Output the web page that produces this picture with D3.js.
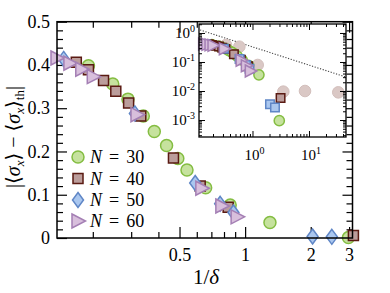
<!DOCTYPE html>
<html>
<head>
<meta charset="utf-8">
<script src="https://cdn.jsdelivr.net/npm/d3@7"></script>
<style>
  body { margin: 0; background: #fff; }
  svg { display: block; }
  text { font-family: "Liberation Serif", "DejaVu Serif", serif; fill: #000; }
</style>
</head>
<body>
<div id="chart"></div>
<script>
// data (x = 1/delta, y = |<sx> - <sx>_th|)
const n30_x = [0.191, 0.247, 0.290, 0.341, 0.383, 0.436, 0.491, 0.541, 0.659, 0.854, 1.30, 2.98];
const n30_y = [0.398, 0.356, 0.321, 0.282, 0.246, 0.214, 0.184, 0.157, 0.116, 0.076, 0.036, 0.00095];
const n40_x = [0.168, 0.191, 0.224, 0.255, 0.292, 0.332, 0.469, 0.622, 0.836, 3.14];
const n40_y = [0.406, 0.389, 0.364, 0.339, 0.312, 0.282, 0.185, 0.120, 0.071, 0.0058];
const n50_x = [0.147, 0.312, 0.590, 0.768, 0.884, 2.04, 2.50];
const n50_y = [0.414, 0.288, 0.127, 0.079, 0.059, 0.0035, 0.0027];
const n60_x = [0.137, 0.157, 0.178, 0.201, 0.319, 0.633, 0.782, 0.919];
const n60_y = [0.416, 0.404, 0.390, 0.373, 0.285, 0.115, 0.074, 0.049];
// grey reference points, inset only
const grey_x = [0.34, 0.585, 1.236, 3.51, 8.5, 33];
const grey_y = [0.386, 0.337, 0.0788, 0.0095, 0.0100, 0.0090];
// dotted guide line in the inset
const guide_x = [0.118, 43.4];
const guide_y = [1.27, 0.0311];

const series = [
  {label: "30", xs: n30_x, ys: n30_y, shape: "circle",   fill: "#c6e29e", stroke: "#84bd42"},
  {label: "40", xs: n40_x, ys: n40_y, shape: "square",   fill: "#bb9d9b", stroke: "#5a1a12"},
  {label: "50", xs: n50_x, ys: n50_y, shape: "diamond",  fill: "#aac7ef", stroke: "#5f86c6"},
  {label: "60", xs: n60_x, ys: n60_y, shape: "triangle", fill: "#d8bfdc", stroke: "#a47fb4"}
];

const FONT = '"Liberation Serif", "DejaVu Serif", serif';
const width = 390, height = 293;
const svg = d3.select("#chart").append("svg").attr("width", width).attr("height", height)
  .style("font-family", FONT);

function markerPath(shape, k) {
  if (shape === "square") return `M${-5*k},${-5*k}H${5*k}V${5*k}H${-5*k}Z`;
  if (shape === "diamond") return `M0,${-7.5*k}L${5.5*k},0L0,${7.5*k}L${-5.5*k},0Z`;
  if (shape === "triangle") return `M${-6*k},${-7*k}L${7.5*k},0L${-6*k},${7*k}Z`;
  return null;
}
function drawMarker(g, shape, cx, cy, fill, stroke, k) {
  if (shape === "circle") {
    g.append("circle").attr("cx", cx).attr("cy", cy).attr("r", 6 * k)
      .attr("fill", fill).attr("stroke", stroke).attr("stroke-width", 1.5);
  } else {
    g.append("path").attr("d", markerPath(shape, k))
      .attr("transform", `translate(${cx},${cy})`)
      .attr("fill", fill).attr("stroke", stroke).attr("stroke-width", 1.5);
  }
}
function logTicks(lo, hi, withMajor) {
  const out = [];
  for (let d = -5; d <= 2; d++) for (let m = 1; m <= 9; m++) {
    const v = m * Math.pow(10, d);
    if (v >= lo && v <= hi && ((m === 1) === withMajor)) out.push(v);
  }
  return out;
}

// ---- main plot
const L = 57, R = 352.5, T = 21.7, B = 238;
const x = d3.scaleLog().domain([0.137, 3.11]).range([L, R]);
const y = d3.scaleLinear().domain([0, 0.5]).range([B, T]);

const xMajor = [0.5, 1, 2, 3];
const xMinor = [0.2, 0.3, 0.4, 0.6, 0.7, 0.8, 0.9];
const yMajor = d3.range(0, 0.51, 0.1);
const yMinor = d3.range(0, 0.5, 0.02).filter((v, i) => i % 5 !== 0);

function axisStyle(g) {
  g.attr("font-family", FONT);
  g.select(".domain").remove();
  g.selectAll("line").attr("stroke", "#000").attr("stroke-width", 1.2);
  g.selectAll("text").style("font-size", "18px").style("font-family", FONT).attr("fill", "#000");
}
svg.append("g").attr("transform", `translate(0,${B})`)
  .call(d3.axisBottom(x).tickValues(xMajor).tickSize(-11).tickPadding(10)
    .tickFormat(d => String(d))).call(axisStyle);
svg.append("g").attr("transform", `translate(0,${B})`)
  .call(d3.axisBottom(x).tickValues(xMinor).tickSize(-6).tickFormat("")).call(axisStyle);
svg.append("g").attr("transform", `translate(0,${T})`)
  .call(d3.axisTop(x).tickValues(xMajor).tickSize(-11).tickFormat("")).call(axisStyle);
svg.append("g").attr("transform", `translate(0,${T})`)
  .call(d3.axisTop(x).tickValues(xMinor).tickSize(-6).tickFormat("")).call(axisStyle);
svg.append("g").attr("transform", `translate(${L},0)`)
  .call(d3.axisLeft(y).tickValues(yMajor).tickSize(-10).tickPadding(7)
    .tickFormat(d => d === 0 ? "0" : d3.format(".1f")(d))).call(axisStyle);
svg.append("g").attr("transform", `translate(${L},0)`)
  .call(d3.axisLeft(y).tickValues(yMinor).tickSize(-6).tickFormat("")).call(axisStyle);
svg.append("g").attr("transform", `translate(${R},0)`)
  .call(d3.axisRight(y).tickValues(yMajor).tickSize(-10).tickFormat("")).call(axisStyle);
svg.append("g").attr("transform", `translate(${R},0)`)
  .call(d3.axisRight(y).tickValues(yMinor).tickSize(-6).tickFormat("")).call(axisStyle);

// ---- inset (drawn over the main frame area)
const iL = 199, iR = 346, iT = 24, iB = 137;
const ix = d3.scaleLog().domain([0.113, 45.2]).range([iL, iR]);
const iy = d3.scaleLog().domain([2.6e-4, 2.04]).range([iB, iT]);

// main markers first
const gMain = svg.append("g");
series.forEach(s => {
  s.xs.forEach((v, i) => drawMarker(gMain, s.shape, x(v), y(s.ys[i]), s.fill, s.stroke, 1));
});

svg.append("rect").attr("x", iL).attr("y", iT).attr("width", iR - iL).attr("height", iB - iT)
  .attr("fill", "#fff");

const gIn = svg.append("g");
gIn.append("path")
  .attr("d", d3.line()(guide_x.map((v, i) => [ix(v), iy(guide_y[i])])))
  .attr("fill", "none").attr("stroke", "#444").attr("stroke-width", 1.1)
  .attr("stroke-dasharray", "1.2,1.6");
grey_x.forEach((v, i) => {
  gIn.append("circle").attr("cx", ix(v)).attr("cy", iy(grey_y[i])).attr("r", 5.8)
    .attr("fill", "#dac8c5").attr("stroke", "#d3bfbc").attr("stroke-width", 1);
});
series.forEach(s => {
  const shape = s.shape === "diamond" ? "square" : s.shape;
  s.xs.forEach((v, i) => drawMarker(gIn, shape, ix(v), iy(s.ys[i]), s.fill, s.stroke, 0.85));
});

function insetStyle(g) {
  g.select(".domain").remove();
  g.selectAll("line").attr("stroke", "#000").attr("stroke-width", 1);
}
const ixMaj = logTicks(0.113, 45.2, true), ixMin = logTicks(0.113, 45.2, false);
const iyMaj = logTicks(2.6e-4, 2.04, true), iyMin = logTicks(2.6e-4, 2.04, false);
[[iB, d3.axisBottom], [iT, d3.axisTop]].forEach(([pos, ax]) => {
  svg.append("g").attr("transform", `translate(0,${pos})`)
    .call(ax(ix).tickValues(ixMaj).tickSize(-6).tickFormat("")).call(insetStyle);
  svg.append("g").attr("transform", `translate(0,${pos})`)
    .call(ax(ix).tickValues(ixMin).tickSize(-3).tickFormat("")).call(insetStyle);
});
[[iL, d3.axisLeft], [iR, d3.axisRight]].forEach(([pos, ax]) => {
  svg.append("g").attr("transform", `translate(${pos},0)`)
    .call(ax(iy).tickValues(iyMaj).tickSize(-6).tickFormat("")).call(insetStyle);
  svg.append("g").attr("transform", `translate(${pos},0)`)
    .call(ax(iy).tickValues(iyMin).tickSize(-3).tickFormat("")).call(insetStyle);
});
svg.append("rect").attr("x", iL).attr("y", iT).attr("width", iR - iL).attr("height", iB - iT)
  .attr("fill", "none").attr("stroke", "#000").attr("stroke-width", 1.3);

// inset tick labels 10^n
function powLabel(px, py, e, anchor) {
  const t = svg.append("text").attr("x", px).attr("y", py).attr("text-anchor", anchor)
    .style("font-size", "15px");
  t.append("tspan").text("10");
  t.append("tspan").attr("dy", -6).style("font-size", "10px").text(e);
}
[0, 1].forEach(e => powLabel(ix(Math.pow(10, e)) + 2, 160, String(e), "middle"));
[0, -1, -2, -3].forEach(e => powLabel(195, iy(Math.pow(10, e)) + 5, e === 0 ? "0" : "-" + (-e), "end"));

// main frame
svg.append("rect").attr("x", L).attr("y", T).attr("width", R - L).attr("height", B - T)
  .attr("fill", "none").attr("stroke", "#000").attr("stroke-width", 1.5);

// legend
const legY = [157, 178.5, 200, 221];
series.forEach((s, i) => {
  drawMarker(svg, s.shape, 78, legY[i], s.fill, s.stroke, 1);
  const t = svg.append("text").attr("x", 90).attr("y", legY[i] + 6).style("font-size", "18px");
  t.append("tspan").style("font-style", "italic").text("N");
  t.append("tspan").attr("dx", 7).text("=");
  t.append("tspan").attr("dx", 7).text(s.label);
});

// axis titles
const xt = svg.append("text").attr("x", 206).attr("y", 284).attr("text-anchor", "middle")
  .style("font-size", "21px");
xt.append("tspan").text("1/");
xt.append("tspan").style("font-style", "italic").text("δ");

const yt = svg.append("text").attr("transform", "translate(20,137) rotate(-90)")
  .attr("text-anchor", "middle").style("font-size", "20px");
yt.append("tspan").text("|⟨");
yt.append("tspan").style("font-style", "italic").text("σ");
yt.append("tspan").attr("dy", 4).style("font-size", "13px").style("font-style", "italic").text("x");
yt.append("tspan").attr("dy", -4).text("⟩ − ⟨");
yt.append("tspan").style("font-style", "italic").text("σ");
yt.append("tspan").attr("dy", 4).style("font-size", "13px").style("font-style", "italic").text("x");
yt.append("tspan").attr("dy", -4).text("⟩");
yt.append("tspan").attr("dy", 4).style("font-size", "13px").text("th");
yt.append("tspan").attr("dy", -4).text("|");
</script>
</body>
</html>
